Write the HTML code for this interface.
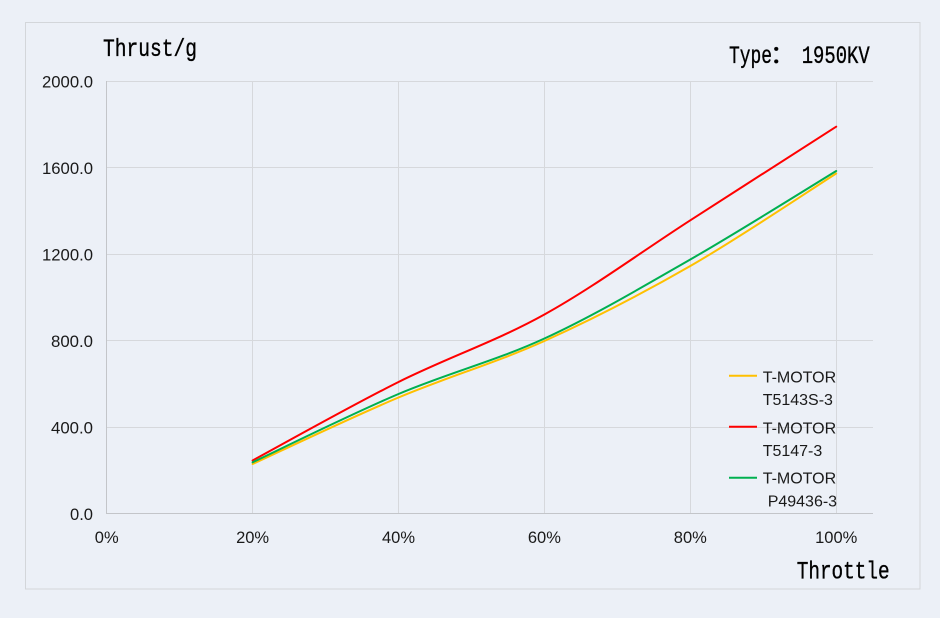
<!DOCTYPE html>
<html>
<head>
<meta charset="utf-8">
<style>
  html,body{margin:0;padding:0;background:#ecf0f7;}
  svg{display:block;}
  .tick{font-family:"Liberation Sans","Noto Sans CJK SC",sans-serif;font-size:16.5px;fill:#1a1a1a;}
  .ttl{font-family:"Liberation Mono","Noto Sans CJK SC",monospace;font-size:25px;fill:#000;stroke:#000;stroke-width:0.35;}
  .leg{font-family:"Liberation Sans","Noto Sans CJK SC",sans-serif;font-size:16px;fill:#1a1a1a;}
</style>
</head>
<body>
<svg width="940" height="618" viewBox="0 0 940 618" xmlns="http://www.w3.org/2000/svg">
  <rect x="0" y="0" width="940" height="618" fill="#ecf0f7"/>
  <rect x="25.5" y="22.5" width="894.5" height="566.5" fill="#ecf0f7" stroke="#d3d6da" stroke-width="1"/>

  <g stroke="#d6d8dc" stroke-width="1">
    <line x1="107" y1="81.5" x2="873" y2="81.5"/>
    <line x1="107" y1="167.5" x2="873" y2="167.5"/>
    <line x1="107" y1="254.5" x2="873" y2="254.5"/>
    <line x1="107" y1="340.5" x2="873" y2="340.5"/>
    <line x1="107" y1="427.5" x2="873" y2="427.5"/>
    <line x1="252.5" y1="81" x2="252.5" y2="513"/>
    <line x1="398.5" y1="81" x2="398.5" y2="513"/>
    <line x1="544.5" y1="81" x2="544.5" y2="513"/>
    <line x1="690.5" y1="81" x2="690.5" y2="513"/>
    <line x1="836.5" y1="81" x2="836.5" y2="513"/>
  </g>
  <g stroke="#c3c5c9" stroke-width="1">
    <line x1="106.5" y1="81" x2="106.5" y2="514"/>
    <line x1="106" y1="513.5" x2="873" y2="513.5"/>
  </g>

  <g class="tick">
    <text x="42" y="87.5" textLength="51" lengthAdjust="spacingAndGlyphs">2000.0</text>
    <text x="42" y="174" textLength="51" lengthAdjust="spacingAndGlyphs">1600.0</text>
    <text x="42" y="260.5" textLength="51" lengthAdjust="spacingAndGlyphs">1200.0</text>
    <text x="51" y="347" textLength="42" lengthAdjust="spacingAndGlyphs">800.0</text>
    <text x="51" y="433.5" textLength="42" lengthAdjust="spacingAndGlyphs">400.0</text>
    <text x="70" y="520" textLength="23" lengthAdjust="spacingAndGlyphs">0.0</text>
  </g>
  <g class="tick" text-anchor="middle">
    <text x="106.7" y="543">0%</text>
    <text x="252.6" y="543">20%</text>
    <text x="398.5" y="543">40%</text>
    <text x="544.4" y="543">60%</text>
    <text x="690.3" y="543">80%</text>
    <text x="836.2" y="543">100%</text>
  </g>

  <text class="ttl" x="103" y="56" textLength="94" lengthAdjust="spacingAndGlyphs">Thrust/g</text>
  <text class="ttl" x="729" y="63" textLength="43" lengthAdjust="spacingAndGlyphs">Type</text>
  <text class="ttl" x="770" y="63" font-family="'Noto Sans CJK SC',sans-serif" font-size="22">：</text>
  <text class="ttl" x="801.7" y="63" textLength="68" lengthAdjust="spacingAndGlyphs">1950KV</text>
  <text class="ttl" x="796.7" y="578.3" textLength="93" lengthAdjust="spacingAndGlyphs">Throttle</text>

  <g fill="none" stroke-width="2" stroke-linecap="round" stroke-linejoin="round">
    <path stroke="#ffc000" d="M252.6,464 C276.9,452.9 349.9,418.0 398.5,397.5 C447.1,377.0 495.8,362.9 544.4,341 C593.0,319.1 641.7,293.9 690.3,266 C738.9,238.1 811.9,188.9 836.2,173.5"/>
    <path stroke="#ff0000" d="M252.6,460.5 C276.9,447.4 349.9,406.3 398.5,382 C447.1,357.7 495.8,341.5 544.4,314.5 C593.0,287.6 641.7,251.6 690.3,220.3 C738.9,189.0 811.9,142.3 836.2,126.7"/>
    <path stroke="#00b050" d="M252.6,462.3 C276.9,450.9 349.9,414.6 398.5,394 C447.1,373.4 495.8,360.9 544.4,338.5 C593.0,316.1 641.7,287.4 690.3,259.5 C738.9,231.6 811.9,185.8 836.2,171"/>
  </g>

  <g stroke-width="2">
    <line x1="729" y1="375.7" x2="757" y2="375.7" stroke="#ffc000"/>
    <line x1="729" y1="426.7" x2="757" y2="426.7" stroke="#ff0000"/>
    <line x1="729" y1="477.7" x2="757" y2="477.7" stroke="#00b050"/>
  </g>
  <g class="leg">
    <text x="762.7" y="382.7">T-MOTOR</text>
    <text x="762.7" y="405">T5143S-3</text>
    <text x="762.7" y="433.7">T-MOTOR</text>
    <text x="762.7" y="456">T5147-3</text>
    <text x="762.7" y="483.3">T-MOTOR</text>
    <text x="767.7" y="506.7">P49436-3</text>
  </g>
</svg>
</body>
</html>
